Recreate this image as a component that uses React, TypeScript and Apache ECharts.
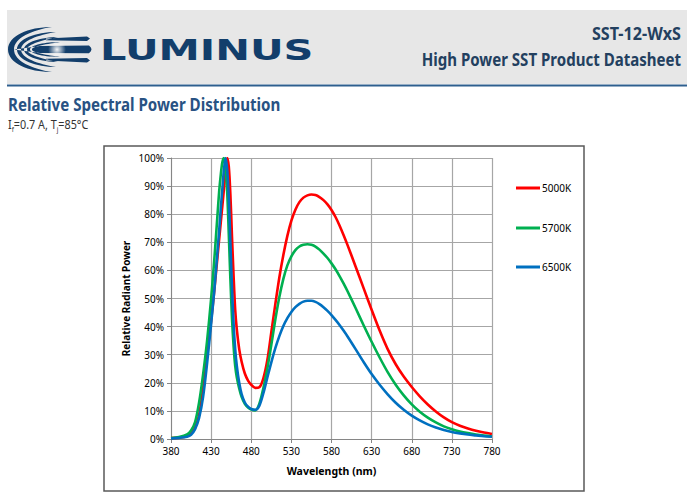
import React, { useEffect, useRef } from "react";
import * as echarts from "echarts";

const wavelengths = [380, 390, 400, 405, 410, 415, 420, 425, 430, 434, 438, 440, 442, 444, 446, 448, 450, 452, 454, 456, 458, 460, 462, 465, 468, 472, 476, 480,
  485, 490, 495, 500, 505, 510, 515, 520, 525, 530, 535, 540, 545, 550, 555, 560, 565, 570, 575, 580, 585, 590, 595, 600,
  610, 620, 630, 640, 650, 660, 670, 680, 690, 700, 710, 720, 730, 740, 750, 760, 770, 780];

const power5000K = [0.3, 0.5, 1, 2, 4, 8.5, 18, 30, 42, 53, 65, 71, 77, 83, 89, 95, 100, 97, 87, 72, 58, 46, 39, 32, 27.5, 23.3, 20.8, 19.3,
  18.2, 18.4, 21.5, 28, 38, 48, 57.5, 65.5, 72.3, 77.7, 81.6, 84.3, 85.9, 86.7, 87, 86.8, 86.1, 85, 83.5, 81.5, 79, 76, 72.6, 69,
  61.4, 53.7, 46, 38.6, 32, 26.6, 22.2, 18.5, 15.2, 12.3, 9.8, 7.7, 6, 4.7, 3.7, 2.9, 2.3, 1.8];

const power5700K = [0.3, 0.7, 1.6, 3, 6, 13, 23, 35, 50, 64, 80, 88, 94, 98.5, 100, 96, 88, 73, 57, 43, 33, 26, 22, 18, 15, 12.5, 11.2, 10.5,
  10.2, 12.5, 18, 25, 33.5, 42.5, 50.5, 57, 61.8, 65, 67.2, 68.5, 69.1, 69.3, 69.1, 68.5, 67.4, 66, 64.4, 62.5, 60.4, 58, 55.4, 52.6,
  46.6, 40.5, 34.6, 29, 23.8, 19.3, 15.5, 12.3, 9.7, 7.6, 5.9, 4.5, 3.5, 2.7, 2.1, 1.6, 1.2, 0.9];

const power6500K = [0.2, 0.4, 0.8, 1.5, 3.5, 7.5, 15, 27, 41, 53, 67, 74, 82, 89, 96, 100, 96, 86, 70, 54, 41, 32, 26, 20, 16, 13, 11.5, 10.7,
  10.4, 11.8, 16.2, 21.8, 27.3, 32.3, 36.6, 40.2, 43, 45.2, 46.9, 48.1, 48.9, 49.2, 49.2, 48.8, 48, 46.9, 45.6, 44.1, 42.4, 40.6, 38.6, 36.5,
  32, 27.4, 23.1, 19.3, 15.9, 12.9, 10.4, 8.3, 6.6, 5.2, 4.1, 3.2, 2.5, 2, 1.6, 1.3, 1, 0.8];

const seriesNames = ["5000K", "5700K", "6500K"];
const seriesColors = ["#ff0000", "#00b050", "#0070c0"];
const seriesValues = [power5000K, power5700K, power6500K];

const xMin = 380;
const xMax = 780;
const xStep = 50;
const yMin = 0;
const yMax = 100;
const yStep = 10;

const LOGO_D =
  "M52 27 C28 27 8 36 8 49.5 C8 63 28 72 52 72 C32 69 14 61 14 49.5 C14 38 32 30 52 27 Z " +
  "M56 32 C36 32 17 39 17 49.5 C17 60 36 67 56 67 C38 64 21 58 21 49.5 C21 41 38 35 56 32 Z " +
  "M58 37 C42 37 24 42 24 49.5 C24 57 42 62 58 62 C44 59 27 55 27 49.5 C27 44 44 40 58 37 Z " +
  "M60 42 C46 42 30 45 30 49.5 C30 54 46 57 60 57 C48 55 32 53 32 49.5 C32 46 48 44 60 42 Z " +
  "M46 38.6 L87 36.6 L90 38.6 L87 41 L46 40.2 Z " +
  "M14 49.5 L40 46 L89 45.6 Q94 49.5 89 53.2 L40 53 Z " +
  "M46 58.8 L87 58 L90 60.4 L87 62.6 L46 60.4 Z";

let registered = false;
function ensureShapes() {
  if (registered) return;
  echarts.graphic.registerShape("logo", echarts.graphic.extendPath(LOGO_D, {}));
  registered = true;
}

const FONT = "Noto Sans";

export default function App() {
  const ref = useRef<HTMLDivElement>(null);

  useEffect(() => {
    if (!ref.current) return;
    ensureShapes();
    const chart = echarts.init(ref.current, undefined, { renderer: "svg" });

    const series = seriesNames.map((name, i) => ({
      name,
      type: "line",
      data: wavelengths.map((w, j) => [w, seriesValues[i][j]]),
      symbol: "none",
      smooth: 0.3,
      lineStyle: { color: seriesColors[i], width: 2.6 },
      itemStyle: { color: seriesColors[i] },
      z: 3 + i,
    }));

    const legendTops = [183, 223, 262];
    const legends = seriesNames.map((name, i) => ({
      data: [name],
      orient: "vertical",
      left: 516,
      top: legendTops[i],
      padding: 0,
      icon: "rect",
      itemWidth: 24,
      itemHeight: 3,
      selectedMode: false,
      textStyle: { color: "#000", fontSize: 10, fontFamily: FONT, padding: [0, 0, 0, -3] },
    }));

    const glow = new echarts.graphic.RadialGradient(0.5, 0.5, 0.5, [
      { offset: 0, color: "rgba(255,255,255,0.95)" },
      { offset: 1, color: "rgba(255,255,255,0)" },
    ]);

    chart.setOption({
      animation: false,
      backgroundColor: "#ffffff",
      grid: { left: 171, right: 195, top: 158, bottom: 61, containLabel: false },
      legend: legends,
      xAxis: {
        type: "value",
        min: xMin,
        max: xMax,
        interval: xStep,
        name: "Wavelength (nm)",
        nameLocation: "middle",
        nameGap: 26,
        nameTextStyle: { color: "#000", fontSize: 10.5, fontWeight: "bold", fontFamily: FONT },
        axisLine: { show: true, lineStyle: { color: "#868686", width: 1 } },
        axisTick: { show: true, length: 4, lineStyle: { color: "#868686" } },
        axisLabel: { color: "#000", fontSize: 10, fontFamily: FONT, margin: 7 },
        splitLine: { show: true, lineStyle: { color: "#a6a6a6", width: 1.2 } },
      },
      yAxis: {
        type: "value",
        min: yMin,
        max: yMax,
        interval: yStep,
        name: "Relative Radiant Power",
        nameLocation: "middle",
        nameRotate: 90,
        nameGap: 40,
        nameTextStyle: { color: "#000", fontSize: 10, fontWeight: "bold", fontFamily: FONT },
        axisLine: { show: true, lineStyle: { color: "#868686", width: 1 } },
        axisTick: { show: true, length: 4, lineStyle: { color: "#868686" } },
        axisLabel: { color: "#000", fontSize: 10, fontFamily: FONT, margin: 7, formatter: "{value}%" },
        splitLine: { show: true, lineStyle: { color: "#a6a6a6", width: 1.2 } },
      },
      series,
      graphic: {
        elements: [
          { type: "rect", shape: { x: 7, y: 10, width: 680, height: 74 }, style: { fill: "#e7e7e7" }, z: 0 },
          { type: "rect", shape: { x: 7, y: 84.5, width: 680, height: 2 }, style: { fill: "#2e5f8e" }, z: 1 },
          { type: "logo", x: 0, y: 0, style: { fill: "#123e6b" }, z: 2 },
          { type: "circle", shape: { cx: 57, cy: 49.5, r: 9 }, style: { fill: glow }, z: 3 },
          {
            type: "text", x: 100, y: 50, scaleX: 1.43, z: 2,
            style: { text: "LUMINUS", fill: "#123e6b", fontSize: 29, fontWeight: "bold", fontFamily: "DejaVu Sans", align: "left", verticalAlign: "middle" },
          },
          {
            type: "text", x: 681, y: 33, scaleX: 0.95, z: 2,
            style: { text: "SST-12-WxS", fill: "#23405f", fontSize: 17, fontWeight: "bold", fontFamily: FONT, align: "right", verticalAlign: "middle" },
          },
          {
            type: "text", x: 681, y: 60, scaleX: 0.885, z: 2,
            style: { text: "High Power SST Product Datasheet", fill: "#23405f", fontSize: 17, fontWeight: "bold", fontFamily: FONT, align: "right", verticalAlign: "middle" },
          },
          {
            type: "text", x: 8, y: 105, scaleX: 0.89, z: 2,
            style: { text: "Relative Spectral Power Distribution", fill: "#285283", fontSize: 17, fontWeight: "bold", fontFamily: FONT, align: "left", verticalAlign: "middle" },
          },
          {
            type: "text", x: 8, y: 118, scaleX: 0.9, z: 2,
            style: {
              text: "{a|I}{s|f}{a|=0.7 A, T}{s|j}{a|=85°C}",
              fill: "#333",
              fontFamily: FONT,
              align: "left",
              verticalAlign: "top",
              rich: {
                a: { fontSize: 12, lineHeight: 15, verticalAlign: "top", fill: "#333", fontFamily: FONT },
                s: { fontSize: 7, lineHeight: 8, verticalAlign: "bottom", padding: [10, 0, 0, 0], fill: "#333", fontFamily: FONT },
              },
            },
          },
          {
            type: "rect", shape: { x: 104, y: 146, width: 480, height: 345 },
            style: { fill: "none", stroke: "#595959", lineWidth: 1.5 }, z: 1,
          },
        ],
      },
    });

    return () => chart.dispose();
  }, []);

  return (
    <div
      ref={ref}
      style={{ position: "fixed", left: 0, top: 0, width: 687, height: 500, background: "#fff" }}
    />
  );
}
